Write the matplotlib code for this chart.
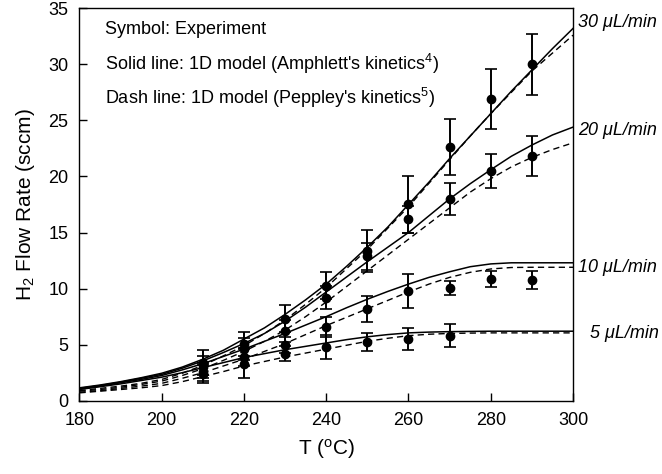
import numpy as np
import matplotlib
matplotlib.use("Agg")
import matplotlib.pyplot as plt

plt.rcParams['font.family'] = ['Liberation Sans', 'DejaVu Sans']
plt.rcParams['mathtext.fontset'] = 'custom'
plt.rcParams['mathtext.rm'] = 'Liberation Sans'
plt.rcParams['mathtext.it'] = 'Liberation Sans:italic'

# model curves (every 5 C)
T_model = list(range(180, 301, 5))
solid_30 = [1.15, 1.4, 1.7, 2.05, 2.45, 3.0, 3.7, 4.5, 5.5, 6.5, 7.7, 9.0, 10.4,
            12.0, 13.7, 15.5, 17.5, 19.5, 21.6, 23.6, 25.6, 27.6, 29.5, 31.4, 33.2]
solid_20 = [1.1, 1.35, 1.65, 2.0, 2.35, 2.9, 3.55, 4.3, 5.1, 6.0, 7.1, 8.35, 9.7,
            11.05, 12.4, 13.7, 15.0, 16.5, 18.0, 19.35, 20.6, 21.8, 22.8, 23.7, 24.4]
solid_10 = [1.05, 1.3, 1.6, 1.9, 2.25, 2.75, 3.3, 3.95, 4.6, 5.3, 6.0, 6.75, 7.5,
            8.3, 9.05, 9.75, 10.4, 11.0, 11.5, 11.95, 12.2, 12.3, 12.3, 12.3, 12.3]
solid_5 = [1.0, 1.25, 1.5, 1.8, 2.1, 2.5, 2.95, 3.4, 3.85, 4.2, 4.55, 4.85, 5.15,
           5.45, 5.7, 5.9, 6.05, 6.12, 6.16, 6.18, 6.2, 6.2, 6.2, 6.2, 6.2]
dash_30 = [0.9, 1.1, 1.3, 1.55, 1.9, 2.45, 3.15, 4.0, 4.9, 6.0, 7.2, 8.6, 10.1,
           11.8, 13.5, 15.4, 17.3, 19.4, 21.5, 23.6, 25.6, 27.5, 29.4, 31.0, 32.6]
dash_20 = [0.85, 1.0, 1.2, 1.45, 1.75, 2.25, 2.85, 3.6, 4.4, 5.3, 6.3, 7.5, 8.8,
           10.2, 11.6, 13.0, 14.4, 15.8, 17.2, 18.6, 19.8, 20.85, 21.7, 22.4, 23.0]
dash_10 = [0.75, 0.9, 1.1, 1.3, 1.55, 2.0, 2.5, 3.1, 3.7, 4.4, 5.1, 5.9, 6.7,
           7.45, 8.2, 8.95, 9.7, 10.4, 11.0, 11.45, 11.75, 11.88, 11.9, 11.9, 11.9]
dash_5 = [0.7, 0.85, 1.0, 1.15, 1.35, 1.7, 2.15, 2.6, 3.1, 3.5, 3.9, 4.25, 4.6,
          4.95, 5.3, 5.57, 5.8, 5.93, 6.0, 6.03, 6.05, 6.05, 6.05, 6.05, 6.05]

# experiments
T_exp = [210, 220, 230, 240, 250, 260, 270, 280, 290]
exp_30 = [3.4, 5.05, 7.3, 10.25, 13.35, 17.5, 22.6, 26.9, 30.0]
err_30 = [1.1, 1.05, 1.2, 1.2, 1.9, 2.5, 2.5, 2.7, 2.7]
exp_20 = [3.0, 4.6, 6.2, 9.2, 12.9, 16.2, 18.0, 20.5, 21.8]
err_20 = [1.0, 1.0, 1.0, 1.0, 1.2, 1.2, 1.4, 1.5, 1.8]
exp_10 = [2.6, 3.9, 5.0, 6.55, 8.2, 9.8, 10.05, 10.85, 10.75]
err_10 = [0.8, 0.8, 0.7, 0.9, 1.15, 1.5, 0.65, 0.7, 0.8]
T_exp5 = [210, 220, 230, 240, 250, 260, 270]
exp_5 = [2.4, 3.3, 4.2, 4.8, 5.2, 5.5, 5.8]
err_5 = [0.8, 1.3, 0.65, 1.1, 0.8, 1.0, 1.0]

labels = ["30 μL/min", "20 μL/min", "10 μL/min", "5 μL/min"]
label_y = [33.7, 24.1, 11.9, 6.0]

fig = plt.figure(figsize=(6.62, 4.74), dpi=100)
ax = fig.add_axes([0.120, 0.1546, 0.7456, 0.828])

for s in [solid_30, solid_20, solid_10, solid_5]:
    ax.plot(T_model, s, color="black", lw=1.1)
for d in [dash_30, dash_20, dash_10, dash_5]:
    ax.plot(T_model, d, color="black", lw=1.0, linestyle=(0, (4.5, 3)))

for tt, yy, ee in [(T_exp, exp_30, err_30), (T_exp, exp_20, err_20),
                   (T_exp, exp_10, err_10), (T_exp5, exp_5, err_5)]:
    ax.errorbar(tt, yy, yerr=ee, fmt="o", color="black", ms=6, elinewidth=1.4,
                capsize=4, capthick=1.2)

ax.set_xlim(180, 300)
ax.set_ylim(0, 35)
ax.set_xticks(range(180, 301, 20))
ax.set_yticks(range(0, 36, 5))
ax.tick_params(direction="in", length=6, width=1, labelsize=13, pad=8)
for sp in ax.spines.values():
    sp.set_linewidth(1)

ax.set_xlabel(r"T ($^{\rm o}$C)", fontsize=15, labelpad=6)
ax.set_ylabel(r"H$_2$ Flow Rate (sccm)", fontsize=15, labelpad=8)

ax.text(0.052, 0.946, "Symbol: Experiment", transform=ax.transAxes, fontsize=13, va="center")
ax.text(0.052, 0.858, r"Solid line: 1D model (Amphlett's kinetics$^4$)", transform=ax.transAxes,
        fontsize=13, va="center")
ax.text(0.052, 0.771, r"Dash line: 1D model (Peppley's kinetics$^5$)", transform=ax.transAxes,
        fontsize=13, va="center")

for i, (lab, ly) in enumerate(zip(labels, label_y)):
    xoff = 301.2 if i < 3 else 304.2
    ax.text(xoff, ly, lab, fontsize=13, style="italic", va="center", ha="left", clip_on=False)

fig.savefig("out.png", dpi=100)
